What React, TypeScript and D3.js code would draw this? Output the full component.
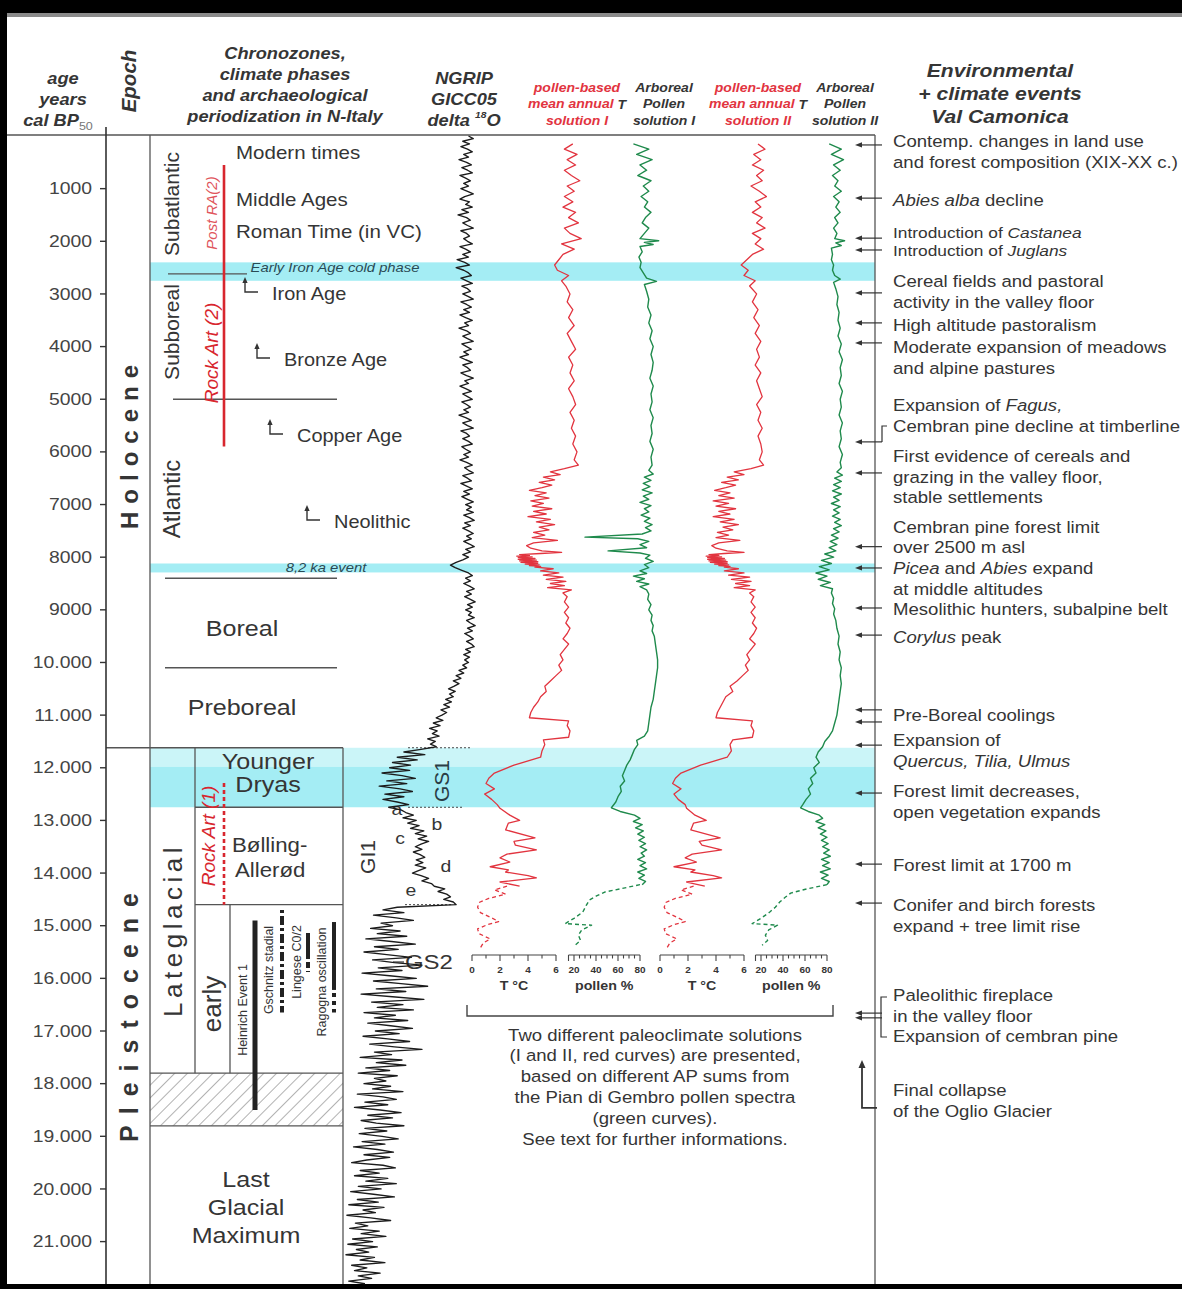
import React from "react";
import * as d3 from "d3";

const WIDTH = 1182;
const HEIGHT = 1289;
const SANS = "'Liberation Sans', Arial, Helvetica, sans-serif";
const STRETCH = 1.14;
const INK = "#353535";
const LINE = "#555";
const RED = "#e2343f";
const GREEN = "#1f8a4c";
const CYAN = "#a4edf4";
const CYAN_LIGHT = "#cbf5f8";

// ---- age axis (years cal BP) ----
const ageTicks = [1000, 2000, 3000, 4000, 5000, 6000, 7000, 8000, 9000, 10000, 11000,
  12000, 13000, 14000, 15000, 16000, 17000, 18000, 19000, 20000, 21000];
const ageTickLabels = ["1000", "2000", "3000", "4000", "5000", "6000", "7000", "8000", "9000",
  "10.000", "11.000", "12.000", "13.000", "14.000", "15.000", "16.000", "17.000", "18.000",
  "19.000", "20.000", "21.000"];

// ---- NGRIP GICC05 delta 18O (permil), one sample every 50 years from 0 BP ----
const ngripStep = 50;
const ngripD18O = [
  -34.0, -33.5, -34.6, -33.9, -34.8, -34.1, -33.6, -34.5, -34.0, -35.0, -34.2, -33.7, -34.7, -34.1, -33.6, -34.9, -34.3, -33.8, -34.5, -34.0,
  -34.8, -34.1, -33.5, -34.4, -34.9, -33.9, -34.3, -33.6, -34.7, -34.0, -35.1, -34.2, -33.8, -34.6, -34.1, -33.5, -34.8, -34.2, -33.9, -34.5,
  -34.1, -33.6, -34.9, -34.3, -33.8, -34.6, -34.0, -35.2, -34.4, -33.9, -35.3, -34.5, -34.0, -33.7, -34.8, -34.2, -33.6, -34.7, -34.1, -33.8,
  -34.6, -34.0, -33.5, -34.8, -34.2, -33.7, -34.5, -33.9, -34.9, -34.3, -33.6, -34.4, -34.0, -35.0, -34.2, -33.8, -34.6, -34.1, -33.5, -34.7,
  -34.2, -33.7, -34.5, -34.0, -34.9, -34.3, -33.6, -34.6, -34.1, -33.8, -34.8, -34.2, -33.5, -34.4, -34.0, -34.9, -34.3, -33.7, -34.6, -34.1,
  -33.6, -34.7, -34.2, -33.8, -34.5, -34.0, -35.0, -34.3, -33.7, -34.6, -34.1, -33.5, -34.8, -34.2, -33.9, -34.6, -34.0, -33.6, -34.7, -34.3,
  -33.8, -34.5, -34.0, -34.9, -34.2, -33.6, -34.4, -34.0, -33.5, -34.6, -34.1, -33.7, -34.8, -34.2, -33.6, -34.5, -33.9, -34.7, -34.1, -33.5,
  -34.3, -33.7, -34.2, -33.5, -34.5, -33.9, -33.4, -34.4, -33.8, -34.6, -34.0, -33.5, -34.2, -33.7, -34.5, -33.9, -33.4, -34.3, -33.8, -34.6,
  -34.0, -34.6, -35.3, -35.9, -35.4, -34.7, -34.0, -33.6, -34.3, -33.8, -34.5, -33.9, -33.4, -34.2, -33.7, -34.4, -33.8, -33.3, -34.1, -33.6,
  -34.3, -33.7, -34.0, -33.4, -34.2, -33.8, -33.3, -34.1, -33.6, -34.4, -33.9, -33.5, -34.2, -33.7, -33.4, -34.3, -33.8, -34.5, -33.9, -34.4,
  -34.0, -34.6, -34.2, -35.0, -34.5, -35.3, -34.8, -35.6, -35.0, -35.5, -36.1, -35.4, -36.0, -35.6, -36.4, -35.8, -36.6, -36.0, -36.9, -36.3,
  -36.8, -37.4, -36.7, -37.7, -37.0, -38.1, -37.3, -37.8, -37.1, -38.3, -37.5, -38.0, -37.4, -39.0, -40.8, -38.6, -41.5, -39.4, -42.0, -40.1,
  -42.3, -40.2, -43.1, -41.0, -39.6, -42.6, -40.5, -43.4, -41.2, -39.9, -42.8, -40.8, -43.0, -41.5, -40.3, -42.4, -41.1, -40.6, -39.8, -40.9,
  -39.5, -40.4, -39.2, -40.1, -38.7, -39.6, -38.4, -39.3, -38.2, -39.0, -39.6, -38.9, -39.8, -39.1, -38.6, -39.5, -38.8, -39.6, -38.5, -39.2,
  -39.9, -39.0, -38.2, -38.9, -37.9, -37.6, -36.5, -37.2, -36.3, -35.9, -36.6, -35.6, -35.3, -41.5, -43.0, -40.8, -44.0, -41.6, -39.8, -43.2,
  -42.0, -44.3, -41.2, -43.6, -40.5, -44.8, -42.1, -39.6, -43.9, -41.4, -45.0, -42.6, -40.0, -44.1, -41.8, -38.9, -43.5, -41.0, -45.2, -42.3,
  -39.5, -44.0, -41.1, -38.3, -43.7, -40.6, -45.3, -42.0, -38.7, -44.2, -40.9, -43.6, -39.8, -45.0, -41.7, -43.9, -40.4, -44.6, -42.2, -39.9,
  -43.8, -41.3, -45.1, -42.5, -40.2, -44.4, -41.8, -38.9, -43.9, -42.1, -45.4, -41.0, -43.7, -40.6, -44.8, -42.3, -45.6, -41.5, -43.9, -42.7,
  -45.0, -42.2, -44.1, -40.9, -45.7, -43.0, -41.6, -44.9, -42.5, -46.0, -43.3, -41.1, -44.6, -42.0, -45.3, -43.7, -40.8, -44.9, -42.6, -45.5,
  -43.1, -41.4, -45.2, -42.8, -46.1, -43.6, -41.9, -45.0, -42.3, -44.7, -46.3, -43.0, -41.7, -45.4, -43.4, -46.0, -42.5, -44.8, -41.6, -45.6,
  -43.2, -46.4, -44.0, -41.8, -45.7, -43.5, -46.6, -42.9, -45.1, -43.8, -46.8, -44.3, -42.2, -45.9, -44.6, -46.5, -43.4, -45.3, -42.7, -46.2,
  -44.1, -46.7, -43.6, -45.8, -44.5, -46.9, -43.9, -45.4, -42.8, -46.3, -44.7, -46.0, -43.3, -45.6, -44.2, -46.6, -44.9,
];

type Pt = [number, number]; // [age cal BP, value]

// ---- pollen-based mean annual T, solution I (deg C) ----
const tempSolutionI: Pt[] = [
  [150, 7.2], [250, 6.6], [350, 7.5], [450, 6.8], [550, 7.4], [650, 6.6], [750, 7.1], [850, 7.7], [950, 6.8], [1050, 7.3],
  [1150, 6.6], [1250, 7.2], [1350, 6.5], [1450, 7.4], [1550, 6.9], [1650, 7.6], [1750, 6.6], [1850, 7.0], [1950, 7.8], [2050, 6.4],
  [2150, 7.3], [2250, 6.5], [2350, 6.2], [2450, 5.9], [2550, 6.1], [2650, 6.9], [2750, 6.4], [2850, 6.7], [3000, 7.0], [3150, 6.8],
  [3300, 7.2], [3450, 6.9], [3600, 7.3], [3750, 6.8], [3900, 7.1], [4050, 7.4], [4200, 6.9], [4350, 7.2], [4500, 7.0], [4650, 7.3],
  [4800, 6.9], [4950, 7.2], [5100, 7.4], [5250, 7.0], [5400, 7.3], [5550, 7.1], [5700, 7.4], [5850, 7.2], [6000, 7.5], [6150, 7.3],
  [6250, 7.6], [6320, 6.6], [6380, 5.6], [6430, 6.3], [6480, 5.1], [6530, 5.9], [6580, 4.8], [6630, 5.7], [6680, 5.0], [6730, 4.1],
  [6780, 5.3], [6830, 4.5], [6880, 5.5], [6930, 4.2], [6980, 5.1], [7030, 4.3], [7080, 5.7], [7130, 4.4], [7180, 5.3], [7230, 4.0],
  [7280, 5.6], [7330, 4.6], [7380, 5.9], [7430, 4.8], [7480, 5.5], [7530, 4.4], [7580, 5.2], [7630, 4.3], [7680, 6.1], [7730, 4.4],
  [7780, 3.9], [7830, 4.2], [7880, 5.0], [7910, 6.4], [7930, 4.9], [7950, 3.4], [7965, 4.1], [7980, 3.2], [7995, 4.3], [8010, 3.3],
  [8025, 4.5], [8040, 3.3], [8055, 4.6], [8070, 3.4], [8085, 4.7], [8100, 3.5], [8115, 4.7], [8130, 3.8], [8145, 4.8], [8160, 4.1],
  [8175, 4.9], [8190, 4.5], [8220, 5.8], [8260, 4.9], [8300, 6.2], [8340, 5.1], [8380, 6.5], [8420, 5.3], [8460, 6.7], [8500, 5.6],
  [8540, 6.6], [8580, 5.4], [8620, 7.1], [8680, 6.5], [8750, 6.8], [8850, 6.6], [8950, 6.9], [9050, 6.6], [9150, 6.9], [9250, 6.7],
  [9350, 7.0], [9450, 6.8], [9550, 6.5], [9650, 6.9], [9750, 6.6], [9850, 6.3], [9950, 6.5], [10050, 6.2], [10150, 6.4], [10250, 6.0],
  [10350, 5.6], [10450, 5.2], [10550, 5.3], [10650, 4.9], [10750, 4.7], [10850, 4.4], [10950, 4.2], [11050, 4.1], [11110, 6.9], [11200, 6.8],
  [11300, 7.0], [11420, 6.9], [11470, 5.1], [11560, 5.2], [11680, 5.0], [11800, 4.9], [11950, 3.0], [12100, 1.6], [12200, 1.2], [12300, 1.0],
  [12400, 1.6], [12500, 0.9], [12600, 1.4], [12700, 1.8], [12770, 2.0], [12900, 2.7], [13000, 3.4], [13050, 2.6], [13180, 2.4], [13330, 4.5],
  [13400, 3.0], [13470, 3.1], [13560, 4.6], [13640, 2.5], [13710, 2.0], [13790, 2.7], [13880, 1.3], [13940, 2.6], [13980, 2.4], [14050, 4.0],
  [14090, 4.6], [14170, 2.0], [14250, 3.4],
];
const tempSolutionIDashed: Pt[] = [
  [14250, 2.5], [14320, 1.6], [14400, 2.4], [14480, 1.2], [14560, 0.5], [14650, 0.4], [14750, 0.6], [14850, 1.4],
  [14920, 1.9], [14980, 1.1], [15060, 0.4], [15150, 0.5], [15250, 1.3], [15330, 0.8], [15420, 0.6],
];

// ---- pollen-based mean annual T, solution II (deg C) ----
const tempSolutionII: Pt[] = [
  [150, 7.0], [250, 7.5], [350, 6.7], [450, 7.2], [550, 6.6], [650, 7.4], [750, 6.9], [850, 7.3], [950, 6.5], [1050, 7.1],
  [1150, 7.6], [1250, 6.8], [1350, 7.2], [1450, 6.6], [1550, 7.3], [1650, 6.9], [1750, 7.5], [1850, 6.6], [1950, 7.2], [2050, 6.8],
  [2150, 7.4], [2250, 6.6], [2350, 6.2], [2450, 5.8], [2550, 6.3], [2650, 6.0], [2750, 6.8], [2850, 6.4], [3000, 6.9], [3150, 6.6],
  [3300, 7.0], [3450, 6.7], [3600, 7.1], [3750, 6.8], [3900, 7.2], [4050, 6.9], [4200, 7.1], [4350, 6.8], [4500, 7.2], [4650, 6.9],
  [4800, 7.1], [4950, 7.3], [5100, 6.9], [5250, 7.2], [5400, 7.0], [5550, 7.3], [5700, 7.0], [5850, 7.2], [6000, 7.3], [6150, 7.1],
  [6250, 7.4], [6320, 6.5], [6380, 5.3], [6430, 6.0], [6480, 4.8], [6530, 5.6], [6580, 4.4], [6630, 5.4], [6680, 4.7], [6730, 3.9],
  [6780, 5.0], [6830, 4.2], [6880, 5.3], [6930, 3.8], [6980, 4.9], [7030, 4.0], [7080, 5.4], [7130, 4.2], [7180, 5.0], [7230, 3.8],
  [7280, 5.3], [7330, 4.3], [7380, 5.6], [7430, 4.5], [7480, 5.2], [7530, 4.1], [7580, 4.9], [7630, 4.0], [7680, 5.7], [7730, 4.2],
  [7780, 3.7], [7830, 4.0], [7880, 4.8], [7910, 6.0], [7930, 4.6], [7950, 3.5], [7965, 4.2], [7980, 3.3], [7995, 4.4], [8010, 3.4],
  [8025, 4.6], [8040, 3.4], [8055, 4.7], [8070, 3.5], [8085, 4.8], [8100, 3.6], [8115, 4.8], [8130, 3.9], [8145, 4.9], [8160, 4.2],
  [8175, 5.0], [8190, 4.6], [8220, 5.6], [8260, 4.6], [8300, 6.0], [8340, 4.9], [8380, 6.4], [8420, 5.1], [8460, 6.5], [8500, 5.4],
  [8540, 6.4], [8580, 5.3], [8620, 6.8], [8680, 6.4], [8750, 6.7], [8850, 6.5], [8950, 6.8], [9050, 6.5], [9150, 6.8], [9250, 6.6],
  [9350, 6.9], [9450, 6.7], [9550, 6.4], [9650, 6.8], [9750, 6.5], [9850, 6.2], [9950, 6.4], [10050, 6.1], [10150, 6.3], [10250, 5.9],
  [10350, 5.5], [10450, 5.0], [10550, 5.2], [10650, 4.7], [10750, 4.5], [10850, 4.3], [10950, 4.1], [11050, 4.0], [11110, 6.6], [11200, 6.5],
  [11300, 6.7], [11420, 6.6], [11470, 5.2], [11560, 5.0], [11680, 5.1], [11800, 4.8], [11950, 2.9], [12100, 1.5], [12200, 1.1], [12300, 0.9],
  [12400, 1.5], [12500, 1.0], [12600, 1.3], [12700, 1.8], [12770, 1.9], [12900, 2.5], [13000, 3.3], [13050, 2.4], [13180, 2.2], [13330, 4.3],
  [13400, 2.8], [13470, 3.0], [13560, 4.4], [13640, 2.3], [13710, 1.8], [13790, 2.6], [13880, 1.0], [13940, 2.5], [13980, 2.2], [14050, 3.8],
  [14090, 4.4], [14170, 1.9], [14250, 3.2],
];
const tempSolutionIIDashed: Pt[] = [
  [14250, 2.4], [14320, 1.5], [14400, 2.3], [14480, 1.1], [14560, 0.4], [14650, 0.3], [14750, 0.5], [14850, 1.3],
  [14920, 1.8], [14980, 1.0], [15060, 0.3], [15150, 0.4], [15250, 1.2], [15330, 0.7], [15420, 0.5],
];

// ---- arboreal pollen, solution I (%) ----
const apSolutionI: Pt[] = [
  [150, 74], [250, 88], [350, 77], [450, 91], [550, 80], [650, 86], [750, 78], [850, 90], [950, 83], [1050, 88],
  [1150, 81], [1250, 87], [1350, 84], [1450, 90], [1550, 85], [1650, 82], [1750, 88], [1850, 84], [1950, 80], [1990, 97],
  [2020, 84], [2060, 92], [2100, 80], [2200, 82], [2300, 79], [2400, 81], [2500, 80], [2600, 83], [2700, 86], [2760, 95],
  [2820, 84], [2950, 86], [3100, 88], [3250, 87], [3400, 90], [3550, 88], [3700, 91], [3850, 89], [4000, 92], [4150, 90],
  [4300, 92], [4450, 91], [4600, 89], [4750, 92], [4900, 90], [5050, 91], [5200, 89], [5350, 92], [5500, 90], [5650, 91],
  [5800, 89], [5950, 92], [6100, 90], [6250, 91], [6350, 88], [6420, 92], [6480, 84], [6540, 90], [6600, 83], [6660, 89],
  [6720, 82], [6780, 91], [6840, 83], [6900, 88], [6960, 80], [7020, 90], [7080, 84], [7140, 88], [7200, 81], [7260, 89],
  [7320, 84], [7380, 91], [7440, 85], [7500, 90], [7560, 82], [7620, 30], [7650, 78], [7700, 88], [7760, 80], [7820, 86],
  [7880, 51], [7920, 80], [7960, 89], [8020, 85], [8080, 92], [8140, 84], [8200, 88], [8260, 80], [8310, 86], [8360, 74],
  [8410, 84], [8460, 77], [8510, 88], [8560, 80], [8620, 86], [8700, 88], [8800, 87], [8900, 90], [9000, 88], [9100, 91],
  [9200, 90], [9300, 92], [9400, 91], [9500, 93], [9650, 94], [9800, 95], [9950, 96], [10100, 96], [10250, 95], [10400, 94],
  [10550, 93], [10700, 92], [10850, 90], [11000, 89], [11150, 88], [11300, 87], [11400, 84], [11480, 77], [11560, 78], [11650, 75],
  [11750, 73], [11850, 71], [11950, 68], [12050, 66], [12150, 64], [12250, 66], [12350, 62], [12450, 63], [12550, 60], [12650, 58],
  [12760, 54], [12830, 62], [12900, 75], [12960, 80], [13020, 74], [13080, 82], [13140, 76], [13200, 83], [13260, 78], [13320, 84],
  [13380, 79], [13440, 85], [13500, 80], [13560, 86], [13620, 81], [13680, 84], [13740, 78], [13800, 85], [13860, 80], [13920, 86],
  [13980, 78], [14040, 84], [14100, 79], [14160, 85], [14220, 82],
];
const apSolutionIDashed: Pt[] = [
  [14220, 80], [14300, 62], [14360, 48], [14440, 40], [14510, 34], [14620, 31], [14740, 28], [14860, 20],
  [14960, 12], [14990, 36], [15080, 27], [15180, 24], [15280, 26], [15370, 21],
];

// ---- arboreal pollen, solution II (%) ----
const apSolutionII: Pt[] = [
  [150, 82], [250, 93], [350, 84], [450, 95], [550, 86], [650, 92], [750, 85], [850, 90], [950, 87], [1050, 93],
  [1150, 86], [1250, 91], [1350, 88], [1450, 92], [1550, 87], [1650, 90], [1750, 86], [1850, 89], [1950, 87], [1990, 96],
  [2030, 88], [2080, 93], [2130, 84], [2250, 85], [2350, 84], [2450, 86], [2550, 85], [2650, 87], [2720, 92], [2780, 86],
  [2900, 88], [3050, 90], [3200, 89], [3350, 91], [3500, 90], [3650, 92], [3800, 90], [3950, 93], [4100, 91], [4250, 94],
  [4400, 92], [4550, 93], [4700, 91], [4850, 94], [5000, 92], [5150, 93], [5300, 91], [5450, 94], [5600, 92], [5750, 93],
  [5900, 91], [6050, 94], [6200, 92], [6300, 93], [6380, 89], [6440, 94], [6500, 87], [6560, 93], [6620, 86], [6680, 92],
  [6740, 85], [6800, 93], [6860, 86], [6920, 91], [6980, 84], [7040, 92], [7100, 86], [7160, 91], [7220, 85], [7280, 92],
  [7340, 87], [7400, 93], [7460, 86], [7520, 91], [7580, 84], [7640, 90], [7700, 83], [7760, 89], [7820, 82], [7880, 88],
  [7940, 78], [8000, 86], [8060, 75], [8120, 84], [8180, 73], [8240, 82], [8300, 70], [8360, 80], [8420, 72], [8480, 83],
  [8540, 74], [8600, 85], [8680, 84], [8780, 86], [8880, 85], [8980, 87], [9080, 86], [9200, 88], [9350, 89], [9500, 91],
  [9650, 90], [9800, 92], [9950, 91], [10100, 93], [10250, 92], [10400, 93], [10550, 92], [10700, 91], [10850, 90], [11000, 89],
  [11150, 87], [11300, 85], [11400, 82], [11500, 78], [11600, 76], [11700, 72], [11800, 70], [11900, 73], [12000, 68], [12100, 70],
  [12200, 65], [12300, 67], [12400, 63], [12500, 65], [12600, 61], [12700, 58], [12760, 56], [12830, 63], [12900, 73], [12960, 76],
  [13020, 70], [13080, 78], [13140, 72], [13200, 79], [13260, 74], [13320, 80], [13380, 75], [13440, 81], [13500, 76], [13560, 82],
  [13620, 77], [13680, 83], [13740, 75], [13800, 82], [13860, 76], [13920, 83], [13980, 74], [14040, 81], [14100, 75], [14160, 82],
  [14220, 80],
];
const apSolutionIIDashed: Pt[] = [
  [14220, 80], [14300, 62], [14380, 47], [14460, 42], [14550, 37], [14650, 33], [14740, 28], [14860, 20],
  [14960, 12], [14990, 35], [15080, 27], [15180, 24], [15280, 26], [15370, 21],
];

// ---- chronozone boundaries (cal BP) ----
const holocenePleistoceneAge = 11620;
const subatlanticBase = 2620;
const subborealBase = 5000;
const atlanticBase = 8400;
const borealBase = 10100;
const youngerDryasBase = 12750;
const bollingAllerodBase = 14600;
const earlyLateglacialBase = 17800;
const lgmTop = 18800;

// cold phases shaded in cyan
const coldBands = [
  { from: 2400, to: 2750, fill: CYAN },
  { from: 8120, to: 8290, fill: CYAN },
  { from: 11620, to: 11980, fill: CYAN_LIGHT },
  { from: 11980, to: 12750, fill: CYAN },
];

// rock art phases and stadials (cal BP ranges)
const rockArt2 = [550, 5900];
const rockArt1 = [12290, 14600];
const heinrichEvent1 = [14900, 18500];
const gschnitzStadial = [14700, 16650];
const lingeseC02 = [15140, 15880];
const ragognaOscillation = [14930, 16220, 16650];

// archaeological periods: age of the start marker
const archPeriods = [
  { label: "Iron Age", age: 2963, x: 245 },
  { label: "Bronze Age", age: 4217, x: 257 },
  { label: "Copper Age", age: 5660, x: 270 },
  { label: "Neolithic", age: 7293, x: 307 },
];

// environmental events (arrows on the right margin)
const eventAges = [170, 1180, 1940, 2165, 2980, 3550, 3930, 5810, 6400, 7800, 8205, 8965, 9480,
  10900, 11130, 11570, 12480, 13830, 14570, 16660, 16750];
const glacierCollapse = [18460, 17590];

type Seg = [string, boolean];
const eventLines: { y: number; size?: number; parts: Seg[] }[] = [
  { y: 141, parts: [["Contemp. changes in land use", false]] },
  { y: 162, parts: [["and forest composition (XIX-XX c.)", false]] },
  { y: 200, parts: [["Abies alba", true], [" decline", false]] },
  { y: 232, size: 15.2, parts: [["Introduction of ", false], ["Castanea", true]] },
  { y: 250.5, size: 15.2, parts: [["Introduction of ", false], ["Juglans", true]] },
  { y: 281, parts: [["Cereal fields and pastoral", false]] },
  { y: 302, parts: [["activity in the valley floor", false]] },
  { y: 325, parts: [["High altitude pastoralism", false]] },
  { y: 347, parts: [["Moderate expansion of meadows", false]] },
  { y: 368, parts: [["and alpine pastures", false]] },
  { y: 405, parts: [["Expansion of ", false], ["Fagus,", true]] },
  { y: 426, parts: [["Cembran pine decline at timberline", false]] },
  { y: 456, parts: [["First evidence of cereals and", false]] },
  { y: 477, parts: [["grazing in the valley floor,", false]] },
  { y: 497, parts: [["stable settlements", false]] },
  { y: 527, parts: [["Cembran pine forest limit", false]] },
  { y: 547, parts: [["over 2500 m asl", false]] },
  { y: 568, parts: [["Picea", true], [" and ", false], ["Abies", true], [" expand", false]] },
  { y: 589, parts: [["at middle altitudes", false]] },
  { y: 609, parts: [["Mesolithic hunters, subalpine belt", false]] },
  { y: 637, parts: [["Corylus", true], [" peak", false]] },
  { y: 715, parts: [["Pre-Boreal coolings", false]] },
  { y: 740, parts: [["Expansion of", false]] },
  { y: 761, parts: [["Quercus, Tilia, Ulmus", true]] },
  { y: 791, parts: [["Forest limit decreases,", false]] },
  { y: 812, parts: [["open vegetation expands", false]] },
  { y: 865, parts: [["Forest limit at 1700 m", false]] },
  { y: 905, parts: [["Conifer and birch forests", false]] },
  { y: 926, parts: [["expand + tree limit rise", false]] },
  { y: 995, parts: [["Paleolithic fireplace", false]] },
  { y: 1016, parts: [["in the valley floor", false]] },
  { y: 1036, parts: [["Expansion of cembran pine", false]] },
  { y: 1090, parts: [["Final collapse", false]] },
  { y: 1111, parts: [["of the Oglio Glacier", false]] },
];

const noteLines = [
  "Two different paleoclimate solutions",
  "(I and II, red curves) are presented,",
  "based on different AP sums from",
  "the Pian di Gembro pollen spectra",
  "(green curves).",
  "See text for further informations.",
];

const tempTicks = [0, 1, 2, 3, 4, 5, 6];
const tempTickLabels = [0, 2, 4, 6];
const pollenTicks = [15, 20, 25, 30, 35, 40, 45, 50, 55, 60, 65, 70, 75, 80];
const pollenTickLabels = [20, 40, 60, 80];

// ---- scales ----
const y = d3.scaleLinear().domain([0, 21000]).range([136, 1241.6]);
const xNgrip = d3.scaleLinear().domain([-47, -33]).range([345, 478]);
const xTempI = d3.scaleLinear().domain([0, 6]).range([472, 556]);
const xTempII = d3.scaleLinear().domain([0, 6]).range([660, 744]);
const xApI = d3.scaleLinear().domain([20, 80]).range([574, 640]);
const xApII = d3.scaleLinear().domain([20, 80]).range([761, 827]);

const AXIS_X = 106;
const EPOCH_R = 150;
const ZONE_R = 343;
const FRAME_R = 875;
const TOP = 135;
const BOTTOM = 1284;

type LabelProps = {
  x: number; y: number; size: number; anchor?: "start" | "middle" | "end";
  bold?: boolean; italic?: boolean; fill?: string; rotate?: number; stretch?: number;
  spacing?: number; children: React.ReactNode;
};

function Label({ x, y: yy, size, anchor = "start", bold = false, italic = false, fill = INK,
  rotate = 0, stretch = STRETCH, spacing, children }: LabelProps) {
  const tf = `translate(${x},${yy}) scale(${stretch},1)` + (rotate ? ` rotate(${rotate})` : "");
  return (
    <text transform={tf} fontSize={size} textAnchor={anchor} fontWeight={bold ? "bold" : "normal"}
      fontStyle={italic ? "italic" : "normal"} fill={fill} dominantBaseline="central"
      letterSpacing={spacing} fontFamily={SANS}>
      {children}
    </text>
  );
}

function Curve({ data, xs, color, width = 1.3, dashed = false }:
  { data: Pt[]; xs: d3.ScaleLinear<number, number>; color: string; width?: number; dashed?: boolean }) {
  const gen = d3.line<Pt>().x((d) => xs(d[1])).y((d) => y(d[0]));
  return <path d={gen(data) || ""} fill="none" stroke={color} strokeWidth={width}
    strokeDasharray={dashed ? "4,3" : undefined} strokeLinejoin="round" />;
}

function BottomAxis({ scale, ticks, labelled, axisY }:
  { scale: d3.ScaleLinear<number, number>; ticks: number[]; labelled: number[]; axisY: number }) {
  const x0 = scale(ticks[0]);
  const x1 = scale(ticks[ticks.length - 1]);
  return (
    <g>
      <line x1={x0} x2={x1} y1={axisY} y2={axisY} stroke="#444" strokeWidth={1.2} />
      {ticks.map((t, i) => {
        const major = labelled.includes(t) || i === 0 || i === ticks.length - 1;
        return <line key={t} x1={scale(t)} x2={scale(t)} y1={axisY} y2={axisY + (major ? 6 : 3.5)}
          stroke="#444" strokeWidth={1.1} />;
      })}
      {labelled.map((t) => (
        <Label key={t} x={scale(t)} y={axisY + 15} size={9.5} anchor="middle" bold stretch={1.05}>{t}</Label>
      ))}
    </g>
  );
}

function ArchMarker({ x, age, label }: { x: number; age: number; label: string }) {
  const yb = y(age);
  const yt = yb - 14;
  return (
    <g>
      <path d={`M${x},${yt + 2} L${x},${yb} L${x + 13},${yb}`} fill="none" stroke="#333" strokeWidth={1.4} />
      <path d={`M${x - 2.6},${yt + 5} L${x},${yt - 1} L${x + 2.6},${yt + 5} Z`} fill="#333" />
      <Label x={x + 27} y={yb + 2} size={17.5}>{label}</Label>
    </g>
  );
}

export default function App() {
  const ngripLine = d3.line<number>().x((d) => xNgrip(d)).y((_, i) => y(i * ngripStep));

  return (
    <svg width={WIDTH} height={HEIGHT} viewBox={`0 0 ${WIDTH} ${HEIGHT}`}
      style={{ position: "absolute", left: 0, top: 0, display: "block" }} fontFamily={SANS}>
      <defs>
        <pattern id="hatch" patternUnits="userSpaceOnUse" width="9" height="9" patternTransform="rotate(45)">
          <line x1="0" y1="0" x2="0" y2="9" stroke="#666" strokeWidth="1" />
        </pattern>
      </defs>

      {/* page */}
      <rect x={0} y={0} width={WIDTH} height={HEIGHT} fill="#000" />
      <rect x={7} y={13} width={WIDTH - 7} height={4} fill="#8a8a8a" />
      <rect x={7} y={17} width={WIDTH - 7} height={BOTTOM - 17} fill="#fff" />

      {/* cold-phase bands */}
      {coldBands.map((b, i) => (
        <rect key={i} x={EPOCH_R} y={y(b.from)} width={FRAME_R - EPOCH_R} height={y(b.to) - y(b.from)} fill={b.fill} />
      ))}

      {/* hatched interval below the early Lateglacial */}
      <rect x={EPOCH_R} y={y(earlyLateglacialBase)} width={ZONE_R - EPOCH_R}
        height={y(lgmTop) - y(earlyLateglacialBase)} fill="url(#hatch)" />

      {/* frame and column lines */}
      <g stroke={LINE} strokeWidth={1.3} fill="none">
        <line x1={7} x2={FRAME_R} y1={TOP} y2={TOP} />
        <line x1={FRAME_R} x2={FRAME_R} y1={TOP} y2={BOTTOM} />
        <line x1={EPOCH_R} x2={EPOCH_R} y1={TOP} y2={BOTTOM} />
        <line x1={ZONE_R} x2={ZONE_R} y1={y(holocenePleistoceneAge)} y2={BOTTOM} />
        <line x1={AXIS_X} x2={ZONE_R} y1={y(holocenePleistoceneAge)} y2={y(holocenePleistoceneAge)} />
        <line x1={195} x2={195} y1={y(holocenePleistoceneAge)} y2={y(earlyLateglacialBase)} />
        <line x1={195} x2={ZONE_R} y1={y(youngerDryasBase)} y2={y(youngerDryasBase)} />
        <line x1={195} x2={ZONE_R} y1={y(bollingAllerodBase)} y2={y(bollingAllerodBase)} />
        <line x1={230} x2={230} y1={y(bollingAllerodBase)} y2={y(earlyLateglacialBase)} />
        <line x1={EPOCH_R} x2={ZONE_R} y1={y(earlyLateglacialBase)} y2={y(earlyLateglacialBase)} />
        <line x1={EPOCH_R} x2={ZONE_R} y1={y(lgmTop)} y2={y(lgmTop)} />
        <line x1={168} x2={247} y1={y(subatlanticBase)} y2={y(subatlanticBase)} />
        <line x1={173} x2={337} y1={y(subborealBase)} y2={y(subborealBase)} />
        <line x1={165} x2={337} y1={y(atlanticBase)} y2={y(atlanticBase)} />
        <line x1={165} x2={337} y1={y(borealBase)} y2={y(borealBase)} />
      </g>

      {/* age axis */}
      <line x1={AXIS_X} x2={AXIS_X} y1={TOP - 8} y2={BOTTOM} stroke="#333" strokeWidth={1.6} />
      {ageTicks.map((t, i) => (
        <g key={t}>
          <line x1={AXIS_X - 6} x2={AXIS_X} y1={y(t)} y2={y(t)} stroke="#333" strokeWidth={1.4} />
          <Label x={92} y={y(t)} size={17} anchor="end" fill="#444">{ageTickLabels[i]}</Label>
        </g>
      ))}

      {/* header */}
      <g>
        <Label x={63} y={78} size={16} anchor="middle" bold italic>age</Label>
        <Label x={63} y={99} size={16} anchor="middle" bold italic>years</Label>
        <Label x={58} y={120} size={16} anchor="middle" bold italic>
          cal BP<tspan fontSize={11} fontWeight="normal" fontStyle="normal" fill="#777" dy={5}>50</tspan>
        </Label>
        <Label x={128} y={81} size={20.5} anchor="middle" bold italic rotate={-90} stretch={1}>Epoch</Label>
        {["Chronozones,", "climate phases", "and archaeological", "periodization in N-Italy"].map((t, i) => (
          <Label key={t} x={285} y={53 + i * 21} size={16} anchor="middle" bold italic>{t}</Label>
        ))}
        <Label x={464} y={78} size={16} anchor="middle" bold italic>NGRIP</Label>
        <Label x={464} y={99} size={16} anchor="middle" bold italic>GICC05</Label>
        <Label x={464} y={120} size={16} anchor="middle" bold italic>
          delta <tspan fontSize={9} dy={-6}>18</tspan><tspan dy={6}>O</tspan>
        </Label>
        {[577, 758].map((cx, k) => (
          <g key={cx}>
            <Label x={cx} y={88} size={12.3} anchor="middle" bold italic fill={RED}>pollen-based</Label>
            <Label x={cx} y={104} size={12.3} anchor="middle" bold italic fill={RED}>
              mean annual <tspan fill={INK}>T</tspan>
            </Label>
            <Label x={cx} y={121} size={12.3} anchor="middle" bold italic fill={RED}>{k === 0 ? "solution I" : "solution II"}</Label>
          </g>
        ))}
        {[664, 845].map((cx, k) => (
          <g key={cx}>
            <Label x={cx} y={88} size={12.3} anchor="middle" bold italic>Arboreal</Label>
            <Label x={cx} y={104} size={12.3} anchor="middle" bold italic>Pollen</Label>
            <Label x={cx} y={121} size={12.3} anchor="middle" bold italic>{k === 0 ? "solution I" : "solution II"}</Label>
          </g>
        ))}
        <Label x={1000} y={70} size={18.5} anchor="middle" bold italic>Environmental</Label>
        <Label x={1000} y={93} size={18.5} anchor="middle" bold italic>+ climate events</Label>
        <Label x={1000} y={116} size={18.5} anchor="middle" bold italic>Val Camonica</Label>
      </g>

      {/* epochs */}
      <Label x={129} y={443} size={24} anchor="middle" bold rotate={-90} stretch={1} spacing={8}>Holocene</Label>
      <Label x={129} y={1012} size={25} anchor="middle" bold rotate={-90} stretch={1} spacing={11}>Pleistocene</Label>

      {/* Holocene chronozones */}
      <Label x={171} y={204} size={21} anchor="middle" rotate={-90} stretch={1}>Subatlantic</Label>
      <Label x={171} y={332} size={21} anchor="middle" rotate={-90} stretch={1}>Subboreal</Label>
      <Label x={171} y={499} size={24} anchor="middle" rotate={-90} stretch={1}>Atlantic</Label>
      <Label x={242} y={629} size={22} anchor="middle">Boreal</Label>
      <Label x={242} y={708} size={22} anchor="middle">Preboreal</Label>
      <Label x={236} y={153} size={18}>Modern times</Label>
      <Label x={236} y={200} size={18}>Middle Ages</Label>
      <Label x={236} y={232} size={18}>Roman Time (in VC)</Label>
      <Label x={335} y={267} size={13} anchor="middle" italic fill="#2a4a55">Early Iron Age cold phase</Label>
      <Label x={326} y={567} size={13} anchor="middle" italic fill="#2a4a55">8,2 ka event</Label>
      {archPeriods.map((p) => <ArchMarker key={p.label} x={p.x} age={p.age} label={p.label} />)}

      {/* rock art phases */}
      <line x1={224} x2={224} y1={y(rockArt2[0])} y2={y(rockArt2[1])} stroke="#d8262e" strokeWidth={2.6} />
      <Label x={211} y={213} size={15} anchor="middle" italic rotate={-90} stretch={1} fill="#e0555c">Post RA(2)</Label>
      <Label x={211} y={353} size={19} anchor="middle" italic rotate={-90} stretch={1} fill="#d8262e">Rock Art (2)</Label>
      <line x1={224} x2={224} y1={y(rockArt1[0])} y2={y(rockArt1[1])} stroke="#d8262e" strokeWidth={2.6} strokeDasharray="4,3" />
      <Label x={208} y={836} size={19} anchor="middle" italic rotate={-90} stretch={1} fill="#d8262e">Rock Art (1)</Label>

      {/* Lateglacial chronozones */}
      <Label x={173} y={930} size={26} anchor="middle" rotate={-90} stretch={1} spacing={4.5}>Lateglacial</Label>
      <Label x={268} y={762} size={22} anchor="middle">Younger</Label>
      <Label x={268} y={785} size={22} anchor="middle">Dryas</Label>
      <Label x={232} y={845} size={19.5}>Bølling-</Label>
      <Label x={235} y={870} size={19.5}>Allerød</Label>
      <Label x={212} y={1004} size={26} anchor="middle" rotate={-90} stretch={1}>early</Label>
      <Label x={243} y={1010} size={12.5} anchor="middle" rotate={-90} stretch={1}>Heinrich Event 1</Label>
      <Label x={269} y={970} size={12.5} anchor="middle" rotate={-90} stretch={1}>Gschnitz stadial</Label>
      <Label x={297} y={962} size={12.5} anchor="middle" rotate={-90} stretch={1}>Lingese C0/2</Label>
      <Label x={322} y={982} size={12.5} anchor="middle" rotate={-90} stretch={1}>Ragogna oscillation</Label>
      <line x1={255} x2={255} y1={y(heinrichEvent1[0])} y2={y(heinrichEvent1[1])} stroke="#222" strokeWidth={5} />
      <line x1={282} x2={282} y1={y(gschnitzStadial[0])} y2={y(gschnitzStadial[1])} stroke="#222" strokeWidth={4} strokeDasharray="3,3,9,3" />
      <line x1={308} x2={308} y1={y(lingeseC02[0])} y2={y(lingeseC02[1])} stroke="#222" strokeWidth={4} strokeDasharray="26,3,6,3" />
      <line x1={334} x2={334} y1={y(ragognaOscillation[0])} y2={y(ragognaOscillation[1])} stroke="#222" strokeWidth={4} />
      <line x1={334} x2={334} y1={y(ragognaOscillation[1]) + 3} y2={y(ragognaOscillation[2])} stroke="#222" strokeWidth={4} strokeDasharray="4,4" />
      <Label x={246} y={1180} size={22} anchor="middle">Last</Label>
      <Label x={246} y={1208} size={22} anchor="middle">Glacial</Label>
      <Label x={246} y={1236} size={22} anchor="middle">Maximum</Label>

      {/* NGRIP stadial / interstadial markers */}
      <g stroke="#444" strokeWidth={1} strokeDasharray="2,2">
        <line x1={408} x2={470} y1={y(holocenePleistoceneAge)} y2={y(holocenePleistoceneAge)} />
        <line x1={408} x2={462} y1={y(youngerDryasBase)} y2={y(youngerDryasBase)} />
        <line x1={405} x2={452} y1={y(bollingAllerodBase)} y2={y(bollingAllerodBase)} />
      </g>
      <Label x={441} y={781} size={21} anchor="middle" rotate={-90} stretch={1} fill="#2a3d45">GS1</Label>
      <Label x={367} y={857} size={21} anchor="middle" rotate={-90} stretch={1}>GI1</Label>
      <Label x={397} y={809} size={17} anchor="middle">a</Label>
      <Label x={437} y={824} size={17} anchor="middle">b</Label>
      <Label x={400} y={838} size={17} anchor="middle">c</Label>
      <Label x={446} y={866} size={17} anchor="middle">d</Label>
      <Label x={411} y={890} size={17} anchor="middle">e</Label>
      <line x1={393} x2={404} y1={962} y2={962} stroke="#333" strokeWidth={1.2} />
      <Label x={405} y={962} size={21}>GS2</Label>

      {/* NGRIP curve */}
      <path d={ngripLine(ngripD18O) || ""} fill="none" stroke="#1c1c1c" strokeWidth={1.35} strokeLinejoin="round" />

      {/* pollen-based temperature and arboreal pollen curves */}
      <Curve data={tempSolutionI} xs={xTempI} color={RED} />
      <Curve data={tempSolutionIDashed} xs={xTempI} color={RED} dashed />
      <Curve data={apSolutionI} xs={xApI} color={GREEN} width={1.4} />
      <Curve data={apSolutionIDashed} xs={xApI} color={GREEN} width={1.4} dashed />
      <Curve data={tempSolutionII} xs={xTempII} color={RED} />
      <Curve data={tempSolutionIIDashed} xs={xTempII} color={RED} dashed />
      <Curve data={apSolutionII} xs={xApII} color={GREEN} width={1.4} />
      <Curve data={apSolutionIIDashed} xs={xApII} color={GREEN} width={1.4} dashed />

      {/* curve axes */}
      <BottomAxis scale={xTempI} ticks={tempTicks} labelled={tempTickLabels} axisY={955} />
      <BottomAxis scale={xApI} ticks={pollenTicks} labelled={pollenTickLabels} axisY={955} />
      <BottomAxis scale={xTempII} ticks={tempTicks} labelled={tempTickLabels} axisY={955} />
      <BottomAxis scale={xApII} ticks={pollenTicks} labelled={pollenTickLabels} axisY={955} />
      {[xTempI, xTempII].map((s, i) => (
        <Label key={"t" + i} x={(s(0) + s(6)) / 2} y={986} size={12.5} anchor="middle" bold>T °C</Label>
      ))}
      {[xApI, xApII].map((s, i) => (
        <Label key={"p" + i} x={(s(15) + s(80)) / 2} y={986} size={12.5} anchor="middle" bold>pollen %</Label>
      ))}
      <path d="M467,1005 V1016 H833 V1005" fill="none" stroke="#444" strokeWidth={1.4} />
      {noteLines.map((t, i) => (
        <Label key={t} x={655} y={1035 + i * 20.8} size={16.3} anchor="middle">{t}</Label>
      ))}

      {/* environmental event arrows */}
      <g stroke="#333" strokeWidth={1.2} fill="#333">
        {eventAges.map((a) => (
          <g key={a}>
            <line x1={860} x2={882} y1={y(a)} y2={y(a)} />
            <path d={`M855,${y(a)} L862,${y(a) - 2.6} L862,${y(a) + 2.6} Z`} stroke="none" />
          </g>
        ))}
        <path d={`M882,${y(5810)} V426 H887`} fill="none" />
        <path d={`M887,997 H881 V1037 H887`} fill="none" />
        <path d={`M${FRAME_R + 2},${y(glacierCollapse[0])} H862 V${y(glacierCollapse[1]) + 4}`} fill="none" strokeWidth={1.8} />
        <path d={`M858.5,${y(glacierCollapse[1]) + 6} L862,${y(glacierCollapse[1]) - 2} L865.5,${y(glacierCollapse[1]) + 6} Z`} stroke="none" />
      </g>
      {eventLines.map((l, i) => (
        <Label key={i} x={893} y={l.y} size={l.size ?? 16.3}>
          {l.parts.map(([t, it], j) => (
            <tspan key={j} fontStyle={it ? "italic" : "normal"}>{t}</tspan>
          ))}
        </Label>
      ))}
    </svg>
  );
}
